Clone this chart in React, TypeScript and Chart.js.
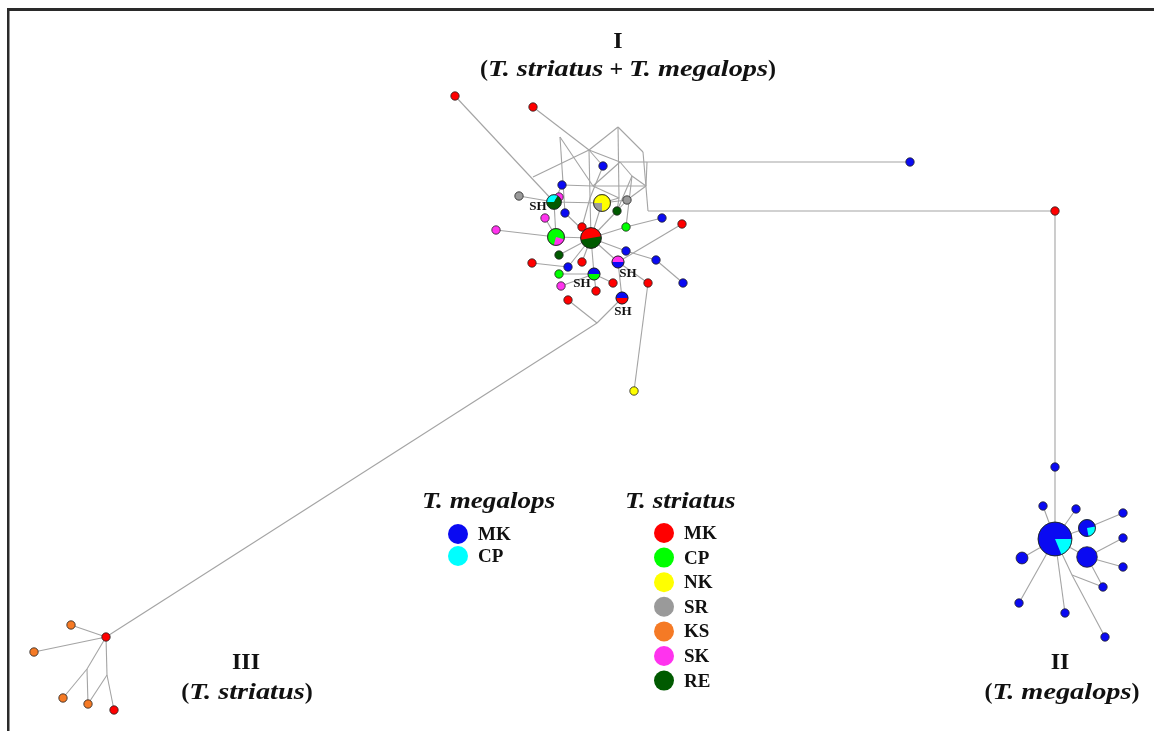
import React, { useEffect, useRef } from "react";
import { Chart, registerables } from "chart.js";

Chart.register(...registerables);

const W = 1154;
const H = 731;
const SERIF = '"Liberation Serif", "Times New Roman", serif';

// population colours
const popColors: Record<string, string> = {
  mMK: "#0a0af2",
  mCP: "#00ffff",
  sMK: "#ff0000",
  sCP: "#00ff00",
  sNK: "#ffff00",
  sSR: "#9a9a9a",
  sKS: "#f57a25",
  sSK: "#ff33ee",
  sRE: "#005a00",
};

// legend
const megalopsPops = ["MK", "CP"];
const megalopsKeys = ["mMK", "mCP"];
const striatusPops = ["MK", "CP", "NK", "SR", "KS", "SK", "RE"];
const striatusKeys = ["sMK", "sCP", "sNK", "sSR", "sKS", "sSK", "sRE"];

// haplotype layout coordinates
const hapX = [
  455, 533, 603, 562, 519, 554, 559, 602, 627, 565, 617, 545, 582, 496, 626, 662, 682, 556, 591, 559,
  626, 656, 532, 582, 568, 618, 559, 594, 561, 613, 648, 596, 568, 622, 683, 634, 910, 1055,
  1055, 1043, 1076, 1055, 1087, 1123, 1022, 1087, 1123, 1123, 1103, 1019, 1065, 1105,
  106, 71, 34, 63, 88, 114,
];
const hapY = [
  96, 107, 166, 185, 196, 202, 197, 203, 200, 213, 211, 218, 227, 230, 227, 218, 224, 237, 238, 255,
  251, 260, 263, 262, 267, 262, 274, 274, 286, 283, 283, 291, 300, 298, 283, 391, 162, 211,
  467, 506, 509, 539, 528, 513, 558, 557, 538, 567, 587, 603, 613, 637,
  637, 625, 652, 698, 704, 710,
];
// haplotype composition (population, count)
const hapPops: [string, number][][] = [
  [["sMK", 1]], [["sMK", 1]], [["mMK", 1]], [["mMK", 1]], [["sSR", 1]],
  [["mCP", 1], ["sRE", 2]], [["sSK", 1]], [["sSR", 1], ["sNK", 3]], [["sSR", 1]], [["mMK", 1]],
  [["sRE", 1]], [["sSK", 1]], [["sMK", 1]], [["sSK", 1]], [["sCP", 1]],
  [["mMK", 1]], [["sMK", 1]], [["sSK", 1], ["sCP", 3]], [["sRE", 3], ["sMK", 3]], [["sRE", 1]],
  [["mMK", 1]], [["mMK", 1]], [["sMK", 1]], [["sMK", 1]], [["mMK", 1]],
  [["sSK", 1], ["mMK", 1]], [["sCP", 1]], [["mMK", 1], ["sCP", 1]], [["sSK", 1]], [["sMK", 1]],
  [["sMK", 1]], [["sMK", 1]], [["sMK", 1]], [["mMK", 1], ["sMK", 1]], [["mMK", 1]],
  [["sNK", 1]], [["mMK", 1]], [["sMK", 1]],
  [["mMK", 1]], [["mMK", 1]], [["mMK", 1]], [["mCP", 3], ["mMK", 13]], [["mCP", 1], ["mMK", 3]],
  [["mMK", 1]], [["mMK", 2]], [["mMK", 6]], [["mMK", 1]], [["mMK", 1]],
  [["mMK", 1]], [["mMK", 1]], [["mMK", 1]], [["mMK", 1]],
  [["sMK", 1]], [["sKS", 1]], [["sKS", 1]], [["sKS", 1]], [["sKS", 1]], [["sMK", 1]],
];
// median vectors (index 100 + i)
const medX = [618, 589, 643, 620, 647, 593, 646, 619, 590, 648, 533, 597, 87, 107, 1072, 560, 632];
const medY = [127, 150, 152, 162, 162, 186, 186, 198, 198, 211, 177, 323, 669, 675, 575, 137, 176];

const links: [number, number][] = [
  [0, 5], [1, 101], [2, 101], [3, 5], [4, 5], [5, 6], [5, 17], [5, 7],
  [7, 8], [7, 18], [7, 107], [8, 10], [10, 18], [10, 107],
  [9, 18], [11, 17], [12, 18], [13, 17], [14, 18], [14, 15], [16, 25], [17, 18],
  [19, 18], [20, 18], [21, 20], [34, 21], [22, 24], [23, 18], [24, 18], [25, 18],
  [25, 30], [26, 27], [27, 18], [28, 27], [29, 27], [31, 27], [32, 111], [33, 111],
  [33, 25], [35, 30],
  [100, 101], [100, 102], [100, 107], [101, 108], [102, 109], [109, 37], [103, 104],
  [104, 36], [103, 105], [104, 106], [105, 106], [110, 101], [108, 18], [101, 103], [105, 107],
  [115, 105], [115, 9], [103, 116], [116, 106], [116, 14], [108, 12], [105, 3], [106, 8],
  [2, 108], [116, 10],
  [37, 38], [38, 41], [41, 39], [41, 40], [41, 42], [42, 43], [41, 45], [45, 46], [45, 47],
  [45, 48], [41, 44], [41, 49], [41, 50], [41, 114], [114, 51], [114, 48],
  [111, 52], [52, 53], [52, 54], [52, 112], [112, 55], [112, 56], [52, 113], [113, 56], [113, 57],
];

const pieStartDeg: Record<number, number> = {
  5: 180, 7: 90, 17: 15, 18: -10, 25: 180, 27: 180, 33: 180, 41: 0, 42: -10,
};
const shLabels: [number, number, number][] = [
  [5, -16, 5], [25, 10, 12], [27, -12, 10], [33, 1, 14],
];

const ITALIC_STRETCH = 1.18;

const hapCount = (i: number) => hapPops[i].reduce((s, p) => s + p[1], 0);
const hapRadius = (i: number) => 4.2 * Math.sqrt(hapCount(i));
const vx = (id: number) => (id >= 100 ? medX[id - 100] : hapX[id]);
const vy = (id: number) => (id >= 100 ? medY[id - 100] : hapY[id]);

function drawMixed(
  ctx: CanvasRenderingContext2D,
  parts: [string, boolean][],
  x0: number,
  y: number,
  size: number,
  align: "center" | "left"
) {
  const fonts = parts.map(([, it]) => `${it ? "italic " : ""}bold ${size}px ${SERIF}`);
  const sx = parts.map(([, it]) => (it ? ITALIC_STRETCH : 1));
  let total = 0;
  const widths = parts.map(([t], i) => {
    ctx.font = fonts[i];
    const w = ctx.measureText(t).width * sx[i];
    total += w;
    return w;
  });
  let x = align === "center" ? x0 - total / 2 : x0;
  ctx.textAlign = "left";
  ctx.textBaseline = "alphabetic";
  parts.forEach(([t], i) => {
    ctx.save();
    ctx.font = fonts[i];
    ctx.translate(x, y);
    ctx.scale(sx[i], 1);
    ctx.fillText(t, 0, 0);
    ctx.restore();
    x += widths[i];
  });
}

const networkPlugin = {
  id: "network",
  beforeDraw(chart: any) {
    const ctx = chart.ctx;
    ctx.save();
    ctx.fillStyle = "#ffffff";
    ctx.fillRect(0, 0, W, H);
    ctx.restore();
  },
  afterDatasetsDraw(chart: any) {
    const ctx: CanvasRenderingContext2D = chart.ctx;
    const xs = chart.scales.x;
    const ys = chart.scales.y;
    ctx.save();
    hapPops.forEach((pops, i) => {
      if (pops.length < 2) return;
      const cx = xs.getPixelForValue(hapX[i]);
      const cy = ys.getPixelForValue(hapY[i]);
      const r = hapRadius(i);
      const total = hapCount(i);
      let a = ((pieStartDeg[i] || 0) * Math.PI) / 180;
      pops.forEach(([k, n]) => {
        const b = a + (n / total) * Math.PI * 2;
        ctx.beginPath();
        ctx.moveTo(cx, cy);
        ctx.arc(cx, cy, r, a, b);
        ctx.closePath();
        ctx.fillStyle = popColors[k];
        ctx.fill();
        a = b;
      });
      ctx.beginPath();
      ctx.arc(cx, cy, r, 0, Math.PI * 2);
      ctx.strokeStyle = "#222";
      ctx.lineWidth = 0.8;
      ctx.stroke();
    });
    ctx.fillStyle = "#111";
    ctx.font = `bold 13px ${SERIF}`;
    ctx.textAlign = "center";
    ctx.textBaseline = "middle";
    shLabels.forEach(([i, dx, dy]) => {
      ctx.fillText("SH", xs.getPixelForValue(hapX[i]) + dx, ys.getPixelForValue(hapY[i]) + dy);
    });
    ctx.restore();
  },
  afterDraw(chart: any) {
    const ctx: CanvasRenderingContext2D = chart.ctx;
    ctx.save();
    ctx.fillStyle = "#111";
    // cluster titles
    ctx.textAlign = "center";
    ctx.textBaseline = "alphabetic";
    ctx.font = `bold 24px ${SERIF}`;
    ctx.fillText("I", 618, 48);
    drawMixed(ctx, [["(", false], ["T. striatus", true], [" + ", false], ["T. megalops", true], [")", false]], 628, 76, 24, "center");
    ctx.textAlign = "center";
    ctx.font = `bold 24px ${SERIF}`;
    ctx.fillText("III", 246, 669);
    drawMixed(ctx, [["(", false], ["T. striatus", true], [")", false]], 247, 699, 24, "center");
    ctx.textAlign = "center";
    ctx.font = `bold 24px ${SERIF}`;
    ctx.fillText("II", 1060, 669);
    drawMixed(ctx, [["(", false], ["T. megalops", true], [")", false]], 1062, 699, 24, "center");

    // legend
    drawMixed(ctx, [["T. megalops", true]], 422, 508, 23, "left");
    drawMixed(ctx, [["T. striatus", true]], 625, 508, 23, "left");
    ctx.font = `bold 19px ${SERIF}`;
    ctx.textAlign = "left";
    ctx.textBaseline = "middle";
    megalopsPops.forEach((p, i) => {
      const y = 534 + i * 22;
      ctx.beginPath();
      ctx.arc(458, y, 10, 0, Math.PI * 2);
      ctx.fillStyle = popColors[megalopsKeys[i]];
      ctx.fill();
      ctx.fillStyle = "#111";
      ctx.fillText(p, 478, y + 1);
    });
    striatusPops.forEach((p, i) => {
      const y = 533 + i * 24.6;
      ctx.beginPath();
      ctx.arc(664, y, 10, 0, Math.PI * 2);
      ctx.fillStyle = popColors[striatusKeys[i]];
      ctx.fill();
      ctx.fillStyle = "#111";
      ctx.fillText(p, 684, y + 1);
    });

    // frame
    ctx.fillStyle = "#2a2a2a";
    ctx.fillRect(7, 8, W - 7, 3);
    ctx.fillRect(7, 8, 2.5, H - 8);
    ctx.restore();
  },
};

export default function App() {
  const ref = useRef<HTMLCanvasElement | null>(null);
  useEffect(() => {
    if (!ref.current) return;
    const edgeSets = links.map(([a, b]) => ({
      data: [
        { x: vx(a), y: vy(a) },
        { x: vx(b), y: vy(b) },
      ],
      showLine: true,
      borderColor: "#a4a4a4",
      borderWidth: 1.1,
      pointRadius: 0,
      pointHoverRadius: 0,
      order: 2,
    }));
    const nodeSet = {
      data: hapX.map((x, i) => ({ x, y: hapY[i] })),
      showLine: false,
      pointRadius: hapX.map((_, i) => hapRadius(i)),
      pointHoverRadius: hapX.map((_, i) => hapRadius(i)),
      backgroundColor: hapPops.map((p) => popColors[p[0][0]]),
      borderColor: "#222",
      borderWidth: 0.8,
      order: 0,
    };
    const chart = new Chart(ref.current, {
      type: "scatter",
      data: { datasets: [nodeSet as any, ...(edgeSets as any)] },
      options: {
        animation: false,
        responsive: false,
        maintainAspectRatio: false,
        devicePixelRatio: 1,
        layout: { padding: 0, autoPadding: false },
        events: [],
        scales: {
          x: { type: "linear", min: 0, max: W, display: false },
          y: { type: "linear", min: 0, max: H, reverse: true, display: false },
        },
        plugins: { legend: { display: false }, tooltip: { enabled: false } },
      },
      plugins: [networkPlugin],
    });
    return () => chart.destroy();
  }, []);
  return (
    <div style={{ position: "fixed", left: 0, top: 0, width: W, height: H, background: "#fff" }}>
      <canvas ref={ref} width={W} height={H} style={{ display: "block", width: W, height: H }} />
    </div>
  );
}
